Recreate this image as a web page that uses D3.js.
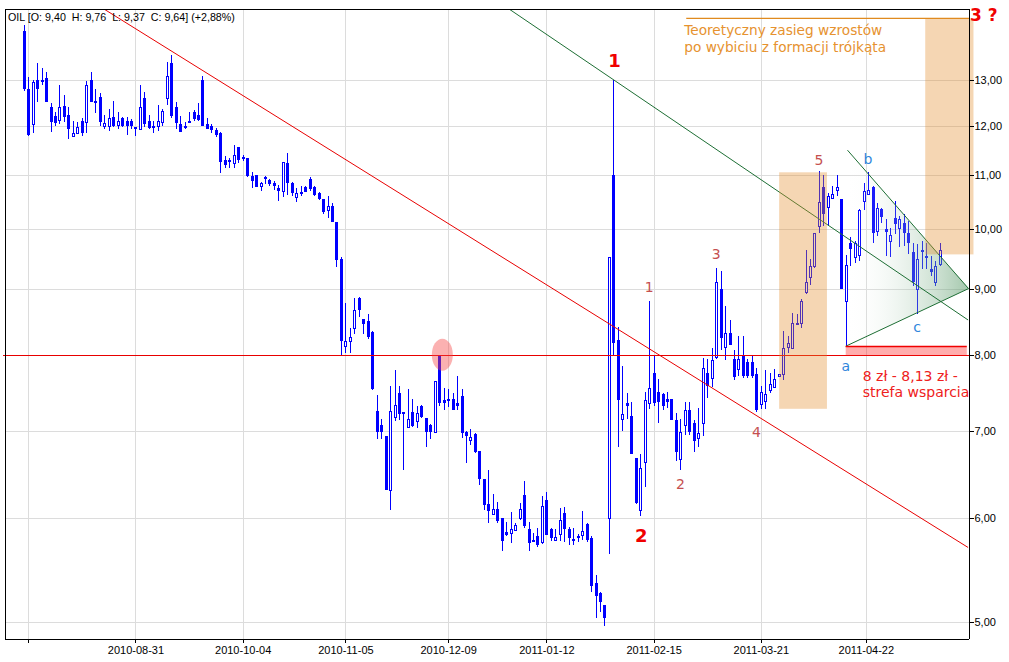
<!DOCTYPE html>
<html><head><meta charset="utf-8">
<script src="https://cdn.jsdelivr.net/npm/d3@7"></script>
<style>body{margin:0;background:#fff}svg{display:block}</style>
</head><body><svg id="c" width="1009" height="662"></svg>
<script>
const ticker = "OIL";
const openV = [14.18,12.80,12.04,13.00,13.00,13.05,12.40,12.20,12.12,12.42,
12.23,11.79,11.84,12.10,12.08,13.00,12.53,12.62,11.99,12.00,
12.19,12.02,12.17,12.09,12.09,11.96,11.93,12.60,12.10,12.00,
12.00,12.08,12.59,13.40,12.40,12.04,11.96,12.08,12.28,12.23,
13.00,12.04,12.00,11.90,11.84,11.30,11.28,11.24,11.55,11.35,
11.33,10.98,11.00,10.78,10.95,10.90,10.84,10.74,10.69,11.24,
10.85,10.57,10.66,10.77,10.92,10.76,10.65,10.55,10.33,10.41,
10.12,9.48,8.14,8.21,8.39,8.85,8.53,8.50,8.34,7.25,
7.07,6.94,6.31,7.17,7.49,7.24,7.05,7.24,7.13,7.32,
7.16,7.07,6.99,7.99,7.39,7.41,7.41,7.35,7.45,6.99,
6.89,6.96,6.76,6.43,6.15,6.05,6.10,6.00,5.86,5.85,
5.88,6.00,6.25,5.89,5.78,5.82,5.76,6.20,5.89,5.78,
5.84,6.06,5.89,5.79,5.82,5.83,5.94,5.80,5.35,5.26,
5.15,6.00,11.00,8.22,7.15,7.36,7.19,6.67,6.09,6.63,
7.35,7.76,7.50,7.47,7.41,7.41,7.14,6.66,7.08,7.26,
7.10,6.92,7.10,7.76,7.69,7.97,9.00,8.12,8.32,7.95,
7.81,7.99,7.90,7.91,7.74,7.34,7.38,7.52,7.56,7.72,
7.74,8.12,8.11,8.45,8.47,8.94,9.18,9.37,10.05,10.76,
10.39,10.56,10.71,10.54,8.81,9.76,9.51,9.55,10.51,10.63,
10.76,9.96,10.36,10.00,9.79,10.20,10.02,10.11,9.92,9.60,
9.00,9.63,9.54,9.31,9.11,9.40];
const highV = [14.33,13.08,13.00,13.40,13.28,13.18,12.48,12.28,12.90,12.67,
12.40,12.10,12.08,12.17,12.98,13.20,12.80,12.70,12.23,12.36,
12.53,12.30,12.18,12.18,12.13,11.97,12.90,12.73,12.23,12.10,
12.45,12.36,13.42,13.60,12.52,12.21,12.08,12.28,12.33,12.48,
13.10,12.16,12.04,11.95,11.86,11.37,11.34,11.60,11.56,11.40,
11.34,11.05,11.00,10.86,10.98,10.92,10.88,10.80,11.26,11.44,
10.86,10.75,10.79,10.79,10.95,10.78,10.68,10.55,10.60,10.47,
10.12,9.51,8.77,8.40,8.85,8.86,8.53,8.60,8.35,7.46,
7.15,6.94,7.58,7.79,7.58,7.24,7.54,7.41,7.32,7.33,
7.16,7.09,7.64,7.99,7.55,7.54,7.48,7.71,7.54,7.00,
7.02,6.97,6.76,6.43,6.54,6.26,6.18,6.00,5.96,6.07,
5.95,6.17,6.41,5.96,5.85,5.90,6.24,6.29,5.90,5.89,
6.11,6.12,5.91,5.90,5.84,6.08,5.95,5.82,5.43,5.27,
5.15,9.51,13.00,8.41,7.85,7.49,7.37,6.67,6.72,7.50,
8.80,8.00,7.67,7.49,7.50,7.41,7.23,7.15,7.37,7.37,
7.14,7.29,7.96,7.95,8.11,9.33,9.29,8.73,8.52,8.08,
8.28,8.28,7.95,8.00,7.83,7.58,7.80,7.76,7.81,7.74,
8.35,8.28,8.62,8.60,8.84,9.63,9.49,9.92,11.08,11.00,
10.66,10.79,11.00,10.54,9.55,9.85,9.79,10.35,10.85,11.05,
10.79,10.47,10.38,10.17,10.02,10.51,10.23,10.26,10.14,9.75,
9.73,9.79,9.76,9.54,9.45,9.76];
const lowV = [12.75,11.78,11.84,12.52,12.88,12.50,11.86,11.99,12.03,12.08,
11.72,11.79,11.84,11.78,11.85,12.50,12.27,12.00,11.93,11.88,
11.98,11.93,11.97,11.80,11.93,11.78,11.93,11.96,11.93,11.85,
11.88,12.00,12.45,12.17,11.93,11.87,11.93,12.08,12.10,12.09,
12.00,11.93,11.85,11.77,11.03,11.13,11.13,11.13,11.24,11.28,
10.96,10.75,10.77,10.69,10.82,10.78,10.71,10.51,10.57,10.61,
10.60,10.49,10.60,10.67,10.69,10.60,10.52,10.27,10.20,10.13,
9.35,8.01,8.03,8.03,8.30,8.56,8.30,8.23,7.53,6.90,
6.90,6.31,6.09,7.13,7.14,6.53,7.05,7.05,7.04,7.16,
6.81,6.90,6.99,7.31,7.27,7.30,7.26,7.26,6.91,6.62,
6.83,6.73,6.36,6.09,5.95,6.04,5.95,5.66,5.82,5.75,
5.88,5.98,5.90,5.66,5.77,5.70,5.74,5.83,5.77,5.77,
5.77,5.76,5.72,5.72,5.76,5.78,5.76,5.27,5.03,5.09,
4.96,5.63,8.00,6.81,7.00,7.15,6.72,6.15,6.03,6.34,
7.28,7.32,7.10,7.26,7.29,7.14,6.64,6.54,6.95,6.95,
6.75,6.80,6.94,7.42,7.57,7.95,8.08,7.94,8.15,7.66,
7.72,7.69,7.69,7.68,7.24,7.28,7.28,7.49,7.55,7.70,
7.66,8.03,8.11,8.45,8.40,8.92,9.05,9.34,9.92,10.06,
10.06,10.55,10.60,9.00,8.13,9.37,9.42,9.45,10.34,10.61,
9.75,9.88,10.11,9.53,9.52,9.91,9.68,9.70,9.56,9.04,
8.61,9.32,9.31,9.20,9.04,9.37];
const closeV = [12.79,11.80,12.96,12.80,12.95,12.50,12.08,12.05,12.40,12.18,
11.93,11.84,11.96,11.84,12.90,12.50,12.50,12.08,12.06,12.17,
12.00,12.09,12.00,12.00,11.99,11.93,12.41,12.03,11.94,11.97,
12.10,12.31,13.10,12.20,12.05,11.87,11.99,12.09,12.14,12.11,
12.00,11.93,11.90,11.80,11.26,11.20,11.30,11.40,11.30,11.32,
10.97,10.88,10.77,10.85,10.92,10.82,10.79,10.69,11.26,10.85,
10.66,10.66,10.67,10.67,10.72,10.62,10.54,10.30,10.41,10.13,
9.46,8.21,8.20,8.26,8.67,8.67,8.45,8.26,7.54,6.99,
6.99,6.31,7.25,7.33,7.22,7.22,7.15,7.06,7.23,7.17,
6.99,6.99,7.64,7.36,7.35,7.39,7.26,7.32,6.98,6.94,
6.93,6.74,6.43,6.14,6.08,6.10,5.97,5.77,5.83,5.89,
5.93,6.10,5.92,5.75,5.77,5.72,6.13,5.83,5.80,5.81,
5.98,5.89,5.80,5.78,5.80,5.87,5.78,5.33,5.23,5.18,
5.03,9.51,8.17,7.40,7.22,7.31,6.72,6.17,6.56,7.39,
7.55,7.36,7.37,7.31,7.37,7.14,6.75,6.99,7.26,6.99,
6.88,6.97,7.82,7.58,7.93,9.11,8.25,8.32,8.15,7.70,
7.95,7.71,7.71,7.71,7.27,7.50,7.47,7.60,7.67,7.74,
8.10,8.17,8.47,8.47,8.80,9.11,9.37,9.92,10.49,10.26,
10.59,10.63,10.76,9.00,9.38,9.65,9.76,10.33,10.69,10.71,
9.92,10.38,10.22,9.94,9.89,10.08,10.17,9.92,9.75,9.11,
9.49,9.60,9.51,9.26,9.37,9.64];

const tickIdx = [1,25,49,72,95,117,141,165,188.5];
const tickLabels = ["","2010-08-31","2010-10-04","2010-11-05","2010-12-09","2011-01-12","2011-02-15","2011-03-21","2011-04-22"];
const priceTicks = [5,6,7,8,9,10,11,12,13];

// annotation data (index, price)
const redTrend = [[17.95,14.74],[211.4,5.70]];
const greenTrend = [[108.64,14.74],[211.4,8.515]];
const triUpper = [[184.4,11.49],[211.5,9.0]];
const triLower = [[184,8.13],[211.5,9.0]];
const triFill = [[184,8.13],[184,11.54],[211.5,9.0]];
const supportLevel = 8.0;
const supportZone = {i0:184, i1:211.1, lo:8.0, hi:8.13};
const waveRect = {i0:169.1, i1:179.8, lo:7.28, hi:11.05};
const targetRect = {i0:201.8, i1:212.6, lo:9.56, hi:14.5};
const targetLine = {i0:148.3, i1:211.6, p:14.5};
const circleMark = {i:93.7, p:8.01};

const bigLabels = [{t:"1", i:132, p:13.0, dy:-13},{t:"2", i:138, p:6.03, dy:26}];
const waveLabels = [{t:"1",i:140,p:8.80,dy:-9},{t:"2",i:147,p:6.54,dy:19},{t:"3",i:155,p:9.33,dy:-9},{t:"4",i:164,p:7.24,dy:25},{t:"5",i:178,p:11.08,dy:-6}];
const abcLabels = [{t:"a",i:184,p:8.13,dy:24.5},{t:"b",i:189,p:11.05,dy:-8},{t:"c",i:200,p:8.61,dy:18}];

const L=5,R=969,T=9,B=639;
const svg = d3.select("#c");
const x = d3.scaleLinear().domain([-4.2,211.6]).range([L,R]);
const y = d3.scaleLog().domain([4.85,14.74]).range([B,T]);
const fmt = v => d3.format(".2f")(v).replace(".",",");

const defs = svg.append("defs");
defs.append("clipPath").attr("id","clip").append("rect").attr("x",L).attr("y",T).attr("width",R-L).attr("height",B-T);
const grad = defs.append("linearGradient").attr("id","tg").attr("x1","0").attr("x2","1").attr("y1","0").attr("y2","0");
grad.append("stop").attr("offset","0").attr("stop-color","#ffffff").attr("stop-opacity",0);
grad.append("stop").attr("offset","1").attr("stop-color","#4f9460").attr("stop-opacity",0.52);

// grid
const g = svg.append("g").attr("shape-rendering","crispEdges");
g.selectAll(".vg").data(tickIdx).join("line").attr("x1",d=>Math.round(x(d))+0.5).attr("x2",d=>Math.round(x(d))+0.5)
 .attr("y1",T).attr("y2",B).attr("stroke","#dcdcdc");
g.selectAll(".hg").data(priceTicks).join("line").attr("y1",d=>Math.round(y(d))+0.5).attr("y2",d=>Math.round(y(d))+0.5)
 .attr("x1",L).attr("x2",R).attr("stroke","#dcdcdc");

// candles
const data = openV.map((o,i)=>({i,o,h:highV[i],l:lowV[i],c:closeV[i]}));
const cg = svg.append("g").attr("shape-rendering","crispEdges");
const cx = d=>Math.round(x(d.i));
cg.selectAll(".w").data(data).join("line")
 .attr("x1",d=>cx(d)+0.5).attr("x2",d=>cx(d)+0.5)
 .attr("y1",d=>y(d.h)).attr("y2",d=>y(d.l)).attr("stroke","#0000ff");
cg.selectAll(".b").data(data).join("rect")
 .attr("x",d=>d.c>=d.o? cx(d)-0.5 : cx(d)-1)
 .attr("width",d=>d.c>=d.o?2:3)
 .attr("y",d=>Math.round(y(Math.max(d.o,d.c)))+(d.c>=d.o?0.5:0))
 .attr("height",d=>Math.max(d.c>=d.o?1:2, Math.round(y(Math.min(d.o,d.c)))-Math.round(y(Math.max(d.o,d.c)))))
 .attr("fill",d=>d.c>=d.o?"#ffffff":"#0000ff")
 .attr("stroke",d=>d.c>=d.o?"#0000ff":"none");

// overlays
const og = svg.append("g").attr("clip-path","url(#clip)");
const line = d3.line().x(d=>x(d[0])).y(d=>y(d[1]));
og.append("path").attr("d",line(redTrend)).attr("stroke","#e80000").attr("fill","none");
og.append("line").attr("x1",L-2).attr("x2",R).attr("y1",Math.round(y(supportLevel))+0.5).attr("y2",Math.round(y(supportLevel))+0.5)
 .attr("stroke","#e80000").attr("shape-rendering","crispEdges");
svg.append("line").attr("x1",L-2).attr("x2",L).attr("y1",Math.round(y(supportLevel))+0.5).attr("y2",Math.round(y(supportLevel))+0.5).attr("stroke","#e80000");
og.append("path").attr("d",line(triFill)+"Z").attr("fill","url(#tg)");
og.append("path").attr("d",line(greenTrend)).attr("stroke","#1d6e34").attr("fill","none");
og.append("path").attr("d",line(triUpper)).attr("stroke","#1d6e34").attr("fill","none");
og.append("path").attr("d",line(triLower)).attr("stroke","#1d6e34").attr("fill","none");
// support zone
og.append("rect").attr("x",x(supportZone.i0)).attr("width",x(supportZone.i1)-x(supportZone.i0))
 .attr("y",y(supportZone.hi)).attr("height",y(supportZone.lo)-y(supportZone.hi)).attr("fill","rgba(255,40,40,0.38)");
og.append("line").attr("x1",x(supportZone.i0)).attr("x2",x(supportZone.i1)).attr("y1",Math.round(y(supportZone.hi))+0.5).attr("y2",Math.round(y(supportZone.hi))+0.5)
 .attr("stroke","#f00000").attr("stroke-width",1.5);
// wave rect
svg.append("rect").attr("x",x(waveRect.i0)).attr("width",x(waveRect.i1)-x(waveRect.i0))
 .attr("y",y(waveRect.hi)).attr("height",y(waveRect.lo)-y(waveRect.hi)).attr("fill","rgb(228,140,45)").attr("fill-opacity",0.36);
svg.append("rect").attr("x",x(targetRect.i0)).attr("width",x(targetRect.i1)-x(targetRect.i0))
 .attr("y",y(targetRect.hi)).attr("height",y(targetRect.lo)-y(targetRect.hi)).attr("fill","rgb(228,140,45)").attr("fill-opacity",0.36);
svg.append("line").attr("x1",x(targetLine.i0)).attr("x2",x(targetLine.i1)).attr("y1",y(targetLine.p)).attr("y2",y(targetLine.p))
 .attr("stroke","#e08a1e").attr("stroke-width",1.2);
// circle
svg.append("ellipse").attr("cx",x(circleMark.i)).attr("cy",y(circleMark.p)).attr("rx",10.5).attr("ry",16)
 .attr("fill","rgb(245,70,70)").attr("fill-opacity",0.42);

// frame & axes
const fr = svg.append("g").attr("shape-rendering","crispEdges");
fr.append("line").attr("x1",L).attr("x2",R).attr("y1",T+0.5).attr("y2",T+0.5).attr("stroke","#000");
fr.append("line").attr("x1",L+0.5).attr("x2",L+0.5).attr("y1",T).attr("y2",B).attr("stroke","#000");

const ay = svg.append("g").attr("transform",`translate(${R+0.5},0)`)
 .call(d3.axisRight(y).tickValues(priceTicks).tickFormat(fmt).tickSize(4).tickSizeOuter(0).tickPadding(1));
const ax = svg.append("g").attr("transform",`translate(0,${B+0.5})`)
 .call(d3.axisBottom(x).tickValues(tickIdx).tickFormat((d,i)=>tickLabels[i]).tickSize(3).tickSizeOuter(0).tickPadding(4));
[ay,ax].forEach(a=>{a.selectAll("text").attr("font-family","Liberation Sans, Arial, sans-serif").attr("font-size","11px").attr("fill","#000");
 a.selectAll("line,path").attr("stroke","#000").attr("shape-rendering","crispEdges");});
ay.select(".domain").attr("d",`M0,${T}V${B}`);
ax.select(".domain").attr("d",`M${L},0H${R}`);

// header
const n = data.length-1, last = data[n];
const pct = (last.c/data[n-1].c-1)*100;
svg.append("text").attr("x",8).attr("y",21).attr("xml:space","preserve")
 .attr("font-family","Liberation Sans, Arial, sans-serif").attr("font-size","10.7px").attr("fill","#000")
 .text(`${ticker} [O: ${fmt(last.o)}  H: ${fmt(last.h)}  L: ${fmt(last.l)}  C: ${fmt(last.c)}] (${pct>=0?"+":""}${fmt(pct)}%)`);

// labels
const font = "DejaVu Sans, sans-serif";
svg.selectAll(".bl").data(bigLabels).join("text").attr("x",d=>x(d.i)+1).attr("y",d=>y(d.p)+d.dy)
 .attr("text-anchor","middle").attr("font-family",font).attr("font-weight","bold").attr("font-size","18px").attr("fill","#f00000").text(d=>d.t);
svg.selectAll(".wl").data(waveLabels).join("text").attr("x",d=>x(d.i)).attr("y",d=>y(d.p)+d.dy)
 .attr("text-anchor","middle").attr("font-family",font).attr("font-size","14px").attr("fill","#c55050").text(d=>d.t);
svg.selectAll(".al").data(abcLabels).join("text").attr("x",d=>x(d.i)).attr("y",d=>y(d.p)+d.dy)
 .attr("text-anchor","middle").attr("font-family",font).attr("font-size","14px").attr("fill","#2f86dc").text(d=>d.t);

svg.append("text").attr("x",x(targetLine.i0)-2).attr("y",y(targetLine.p)+17).attr("font-family",font).attr("font-size","13.7px").attr("fill","#e6922f").text("Teoretyczny zasieg wzrostów");
svg.append("text").attr("x",x(targetLine.i0)-2).attr("y",y(targetLine.p)+33.5).attr("font-family",font).attr("font-size","13.7px").attr("fill","#e6922f").text("po wybiciu z formacji trójkąta");
svg.append("text").attr("x",R+1).attr("y",y(targetLine.p)+3).attr("font-family",font).attr("font-weight","bold").attr("font-size","17px").attr("fill","#f00000").attr("xml:space","preserve").text("3 ?");

svg.append("text").attr("x",x(supportZone.i0)+17).attr("y",y(supportZone.lo)+26).attr("font-family",font).attr("font-size","14px").attr("fill","#ee2020").text("8 zł - 8,13 zł -");
svg.append("text").attr("x",x(supportZone.i0)+17).attr("y",y(supportZone.lo)+42).attr("font-family",font).attr("font-size","14px").attr("fill","#ee2020").text("strefa wsparcia");
</script></body></html>
